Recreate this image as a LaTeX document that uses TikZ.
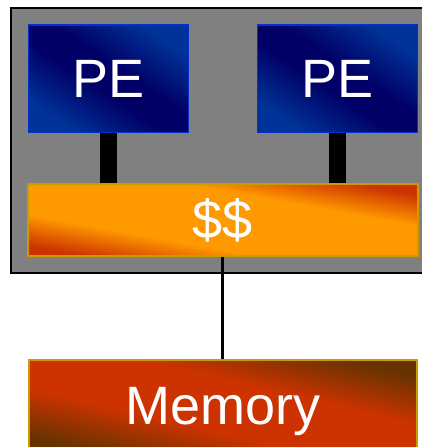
\documentclass[tikz,border=0pt]{standalone}
\usepackage{fontspec}
\setmainfont{Liberation Sans}

% colours
\definecolor{pelight}{HTML}{003399}
\definecolor{pedark}{HTML}{000066}
\definecolor{peedge}{HTML}{0033CC}
\definecolor{cacheorange}{HTML}{FF9900}
\definecolor{cachered}{HTML}{CC3300}
\definecolor{memred}{HTML}{CC3300}
\definecolor{membrown}{HTML}{663300}
\definecolor{goldedge}{HTML}{CC9900}
\definecolor{chipgray}{HTML}{808080}

% diagonal band shadings: with the shading angle set to atan(width/height)
% the lower-left and upper-right corners fall at 25bp and 75bp and the
% other diagonal at 50bp
\pgfdeclarehorizontalshading{peband}{100bp}{color(0bp)=(pelight); color(25bp)=(pelight); color(45bp)=(pedark); color(55bp)=(pedark); color(75bp)=(pelight); color(100bp)=(pelight)}
\pgfdeclarehorizontalshading{cacheband}{100bp}{color(0bp)=(cachered); color(25bp)=(cachered); color(38bp)=(cacheorange); color(62bp)=(cacheorange); color(75bp)=(cachered); color(100bp)=(cachered)}
\pgfdeclarehorizontalshading{memband}{100bp}{color(0bp)=(membrown); color(25bp)=(membrown); color(41bp)=(memred); color(59bp)=(memred); color(75bp)=(membrown); color(100bp)=(membrown)}

\tikzset{
  unit/.style={rectangle, inner sep=0pt, text=white,
    font=\fontsize{54}{60}\selectfont},
  pebox/.style={unit, shading=peband, shading angle=56.06, draw=peedge, line width=1.4pt,
    minimum width=160pt, minimum height=107.7pt},
  cachebox/.style={unit, shading=cacheband, shading angle=79.57, draw=goldedge, line width=2pt,
    minimum width=389.4pt, minimum height=71.7pt},
  membox/.style={unit, shading=memband, shading angle=76.68, draw=goldedge, line width=2pt,
    minimum width=388.6pt, minimum height=92pt, text depth=0pt},
  portbar/.style={line width=17pt, black},
  busline/.style={line width=3pt, black},
}

\begin{document}
\begin{tikzpicture}[x=1pt, y=-1pt]
  \useasboundingbox (0,0) rectangle (422,447);
  \clip (0,0) rectangle (422,447);
  \fill[white] (0,0) rectangle (422,447);

  % chip outline
  \draw[fill=chipgray, line width=2pt] (11,8) rectangle (440,272.5);

  % processing elements and shared cache
  \node[pebox] (pe1) at (108.7,78.8) {PE};
  \node[pebox] (pe2) at (337.5,78.8) {PE};
  \node[cachebox] (cache) at (223,220.2) {\$\$};

  % memory below the chip
  \node[membox] (mem) at (223,406.3) {Memory};

  % connections
  \draw[portbar] (pe1.south) -- (pe1.south |- cache.north);
  \draw[portbar] (pe2.south) -- (pe2.south |- cache.north);
  \draw[busline] (cache.south -| 222.7,0) -- (mem.north -| 222.7,0);
\end{tikzpicture}
\end{document}
